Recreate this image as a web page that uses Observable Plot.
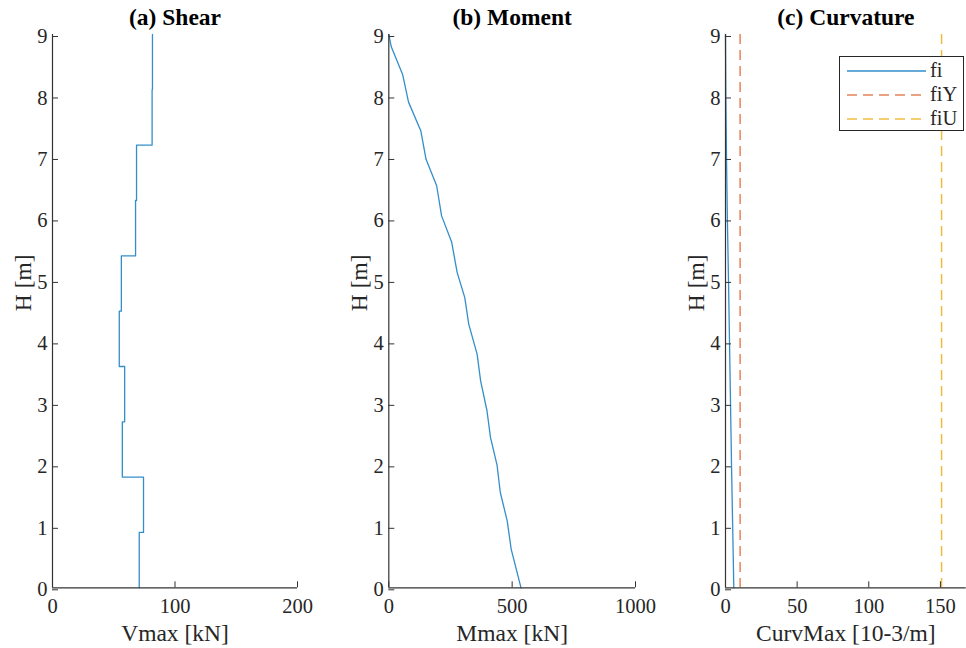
<!DOCTYPE html>
<html>
<head>
<meta charset="utf-8">
<script src="https://cdn.jsdelivr.net/npm/d3@7"></script>
<script src="https://cdn.jsdelivr.net/npm/@observablehq/plot@0.6"></script>
<style>
  html, body { margin: 0; padding: 0; background: #fff; }
  body { width: 966px; height: 648px; overflow: hidden; position: relative; font-family: "Liberation Serif", "Times New Roman", serif; }
  .panel { position: absolute; top: 0; }
  .panel svg { max-width: none !important; }
  svg text { font-family: "Liberation Serif", "Times New Roman", serif !important; }
  #legend { position: absolute; left: 839px; top: 56px; width: 125px; height: 75px; border: 1px solid #262626; background: #fff; box-sizing: border-box; }
</style>
</head>
<body>
<div id="pa" class="panel" style="left:0px"></div>
<div id="pb" class="panel" style="left:330px"></div>
<div id="pc" class="panel" style="left:665px"></div>
<div id="legend"></div>
<script>
// ---- Data ----
const hTicks = [0, 1, 2, 3, 4, 5, 6, 7, 8, 9];

// (a) Shear: storey boundaries [m] and constant Vmax per segment [kN]
const shearLevels = [0, 0.9, 1.8, 2.7, 3.6, 4.5, 5.4, 6.3, 7.2, 8.1, 9];
const shearV = [70.8, 74.3, 57.0, 58.9, 54.5, 56.2, 67.8, 68.6, 81.3, 81.6];
const shearTicks = [0, 100, 200];

// (b) Moment
const momentH = [9, 8.8, 8.35, 7.9, 7.43, 6.97, 6.54, 6.05, 5.62, 5.13, 4.72, 4.29, 3.8, 3.37, 2.88, 2.45, 1.99, 1.55, 1.09, 0.63, 0];
const momentM = [0, 10, 56, 80, 130, 151, 194, 214, 255, 277, 308, 324, 358, 372, 398, 412, 439, 452, 480, 496, 536];
const momentTicks = [0, 500, 1000];

// (c) Curvature
const curvH = [0, 1, 2, 3, 4, 5, 6, 7, 8, 9];
const curvFi = [5.8, 5.0, 4.2, 3.5, 2.8, 2.1, 1.3, 0.7, 0.25, 0];
const fiY = 10.2;
const fiU = 150.8;
const curvTicks = [0, 50, 100, 150];

const seriesNames = ["fi", "fiY", "fiU"];
const colors = {fi: "#0072BD", fiY: "#D95319", fiU: "#EDB120"};
const opac = {fi: 0.8, fiY: 0.72, fiU: 0.85};

// ---- Build tables ----
const shearPts = [];
shearV.forEach((v, i) => {
  shearPts.push({x: v, y: shearLevels[i]});
  shearPts.push({x: v, y: shearLevels[i + 1]});
});
const momentPts = momentH.map((h, i) => ({x: momentM[i], y: h}));
const curvPts = curvH.map((h, i) => ({x: curvFi[i], y: h}));

const FONT = '"Liberation Serif", "Times New Roman", serif';
const INK = "#262626";

function panel({width, ml, mr, xDomain, xTicks, xLabel, title, marks}) {
  return Plot.plot({
    width, height: 648,
    marginLeft: ml, marginRight: mr, marginTop: 34, marginBottom: 60.7,
    x: {domain: xDomain},
    y: {domain: [0, 9]},
    style: {fontFamily: FONT, fontSize: "20px", color: INK, background: "transparent", overflow: "visible", maxWidth: "none"},
    marks: [
      ...marks,
      Plot.ruleX([xDomain[0]], {stroke: "#333", strokeWidth: 1.2}),
      Plot.ruleY([0], {stroke: "#333", strokeWidth: 1.2}),
      Plot.axisX({ticks: xTicks, tickSize: -6, tickPadding: 17, label: null, tickFormat: d => String(d), stroke: "#333", fontSize: 20.5}),
      Plot.axisY({ticks: hTicks, tickSize: -6, tickPadding: 11, label: null, tickFormat: d => String(d), stroke: "#333", fontSize: 20.5, dy: 2}),
      Plot.text([title], {text: d => d, frameAnchor: "top", dy: -10, lineAnchor: "bottom", fontWeight: "bold", fontSize: 23.5, fill: "#000"}),
      Plot.text([xLabel], {text: d => d, frameAnchor: "bottom", dy: 53, lineAnchor: "bottom", fontSize: 23.5, fill: INK}),
      Plot.text(["H [m]"], {text: d => d, frameAnchor: "left", dx: -22, rotate: -90, lineAnchor: "bottom", fontSize: 23.5, fill: INK})
    ]
  });
}

document.getElementById("pa").append(panel({
  width: 320, ml: 52, mr: 23, xDomain: [0, 200], xTicks: shearTicks,
  xLabel: "Vmax [kN]", title: "(a) Shear",
  marks: [Plot.line(shearPts, {x: "x", y: "y", stroke: colors.fi, strokeWidth: 1.3, strokeOpacity: opac.fi})]
}));

document.getElementById("pb").append(panel({
  width: 320, ml: 58.3, mr: 15, xDomain: [0, 1000], xTicks: momentTicks,
  xLabel: "Mmax [kN]", title: "(b) Moment",
  marks: [Plot.line(momentPts, {x: "x", y: "y", stroke: colors.fi, strokeWidth: 1.3, strokeOpacity: opac.fi})]
}));

document.getElementById("pc").append(panel({
  width: 310, ml: 60, mr: 9.3, xDomain: [0, 168], xTicks: curvTicks,
  xLabel: "CurvMax [10-3/m]", title: "(c) Curvature",
  marks: [
    Plot.ruleX([fiY], {stroke: colors.fiY, strokeWidth: 1.5, strokeOpacity: opac.fiY, strokeDasharray: "10,6"}),
    Plot.ruleX([fiU], {stroke: colors.fiU, strokeWidth: 1.5, strokeOpacity: opac.fiU, strokeDasharray: "10,6"}),
    Plot.line(curvPts, {x: "x", y: "y", stroke: colors.fi, strokeWidth: 1.3, strokeOpacity: opac.fi})
  ]
}));

// ---- Legend ----
const leg = d3.select("#legend").append("svg").attr("width", 123).attr("height", 73)
  .style("position", "absolute").style("left", "0px").style("top", "0px");
seriesNames.forEach((name, i) => {
  const y = 14 + i * 24;
  leg.append("line").attr("x1", 7).attr("x2", 86).attr("y1", y).attr("y2", y)
    .attr("stroke", colors[name]).attr("stroke-width", name === "fi" ? 1.3 : 1.5)
    .attr("stroke-opacity", opac[name])
    .attr("stroke-dasharray", name === "fi" ? null : "10,6");
  leg.append("text").attr("x", 90).attr("y", y + 6).text(name)
    .attr("font-family", FONT).attr("font-size", 20.5).attr("fill", INK);
});
</script>
</body>
</html>
